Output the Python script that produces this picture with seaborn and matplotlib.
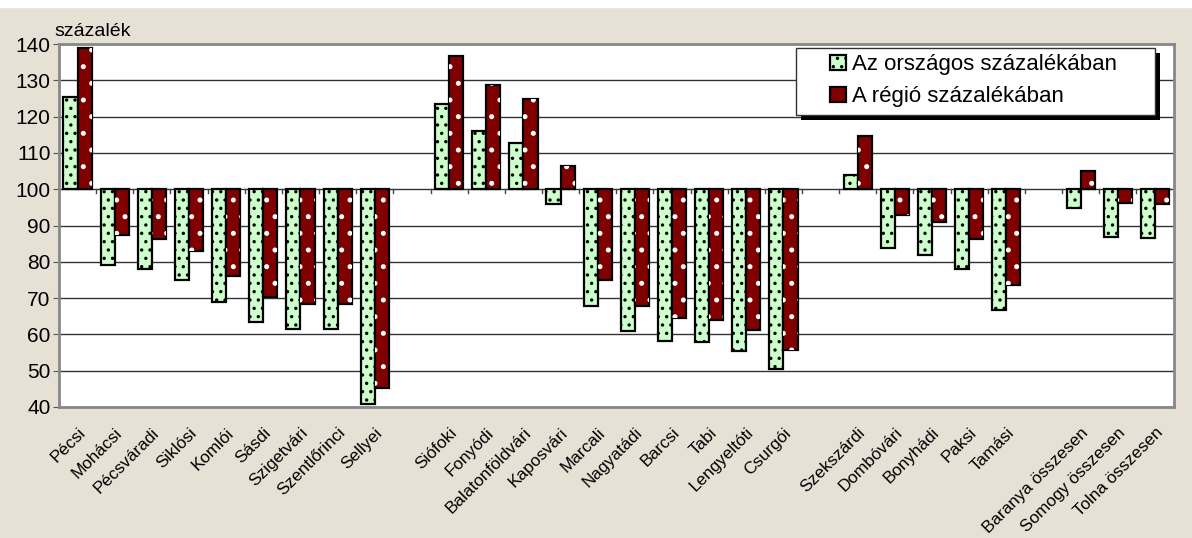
import seaborn as sns
import pandas as pd
import matplotlib.pyplot as plt
from matplotlib.patches import Rectangle
from matplotlib.ticker import FuncFormatter

# kategoriak (ures helyek a megyek kozott)
kategoriak = ["Pécsi", "Mohácsi", "Pécsváradi", "Siklósi", "Komlói", "Sásdi",
              "Szigetvári", "Szentlőrinci", "Sellyei", "",
              "Siófoki", "Fonyódi", "Balatonföldvári", "Kaposvári", "Marcali",
              "Nagyatádi", "Barcsi", "Tabi", "Lengyeltóti", "Csurgói", " ",
              "Szekszárdi", "Dombóvári", "Bonyhádi", "Paksi", "Tamási", "  ",
              "Baranya összesen", "Somogy összesen", "Tolna összesen"]

orszagos = [125.3, 79.0, 78.1, 75.0, 68.8, 63.3, 61.6, 61.4, 40.7, None,
            123.5, 116.1, 112.7, 96.0, 67.7, 60.9, 58.3, 57.9, 55.3, 50.4, None,
            103.8, 83.9, 82.0, 77.9, 66.6, None,
            94.9, 86.8, 86.6]
regio = [138.9, 87.4, 86.4, 83.1, 76.2, 70.3, 68.4, 68.3, 45.2, None,
         136.8, 128.7, 124.9, 106.3, 74.9, 67.7, 64.6, 64.0, 61.3, 55.8, None,
         114.8, 93.0, 90.9, 86.2, 73.7, None,
         105.1, 96.2, 96.0]

sorozatok = ["Az országos százalékában", "A régió százalékában"]

rows = []
for k, o, r in zip(kategoriak, orszagos, regio):
    if o is None:
        continue
    rows.append((k, sorozatok[0], o - 100))
    rows.append((k, sorozatok[1], r - 100))
df = pd.DataFrame(rows, columns=["kat", "sor", "elteres"])

bg = "#e7e0d5"
plt.rcParams["font.family"] = ["Liberation Sans", "DejaVu Sans"]
plt.rcParams["hatch.linewidth"] = 1.2
fig = plt.figure(figsize=(11.92, 5.38), dpi=100, facecolor=bg)
fig.add_artist(Rectangle((0, 1 - 7 / 538), 1, 7 / 538, transform=fig.transFigure,
                         color="white", zorder=0))
ax = fig.add_axes([0.0495, 0.2435, 0.935, 0.6745])
ax.set_facecolor("white")

sns.barplot(data=df, x="kat", y="elteres", hue="sor", order=kategoriak,
            hue_order=sorozatok, palette=["#ccffcc", "#800000"],
            width=0.76, edgecolor="black", saturation=1, ax=ax)

for p in list(ax.patches):
    p.set_zorder(3)
    p.set_linewidth(1.6)
    p.set_edgecolor("black")
    if p.get_facecolor()[1] > 0.9:
        p.set_hatch("..")
    else:
        # feher pontok a piros oszlopokon
        ax.add_patch(Rectangle(p.get_xy(), p.get_width(), p.get_height(),
                               fill=False, edgecolor="white", hatch=".",
                               linewidth=0, zorder=3.2))

ax.set_ylim(-60, 40)
ax.set_xlim(-0.5, len(kategoriak) - 0.5)
ax.set_yticks(range(-60, 41, 10))
ax.yaxis.set_major_formatter(FuncFormatter(lambda v, _: f"{v + 100:.0f}"))
ax.yaxis.grid(True, color="#333333", linewidth=1)
ax.set_axisbelow(True)
ax.tick_params(axis="y", labelsize=15, length=4, color="#555555", pad=2)
ax.tick_params(axis="x", length=0, labelsize=12.3, pad=13)
ax.set_xticks(range(len(kategoriak)))
ax.set_xticklabels(kategoriak, rotation=45, ha="right", rotation_mode="anchor")
ax.set_xlabel("")
ax.set_ylabel("")
for s in ax.spines.values():
    s.set_color("#888888")
    s.set_linewidth(2)

# kis osztasok a 100-as vonalon
for i in range(len(kategoriak) + 1):
    ax.plot([i - 0.5, i - 0.5], [0, -1.1], color="#444444", lw=1, zorder=2)

fig.text(0.046, 0.925, "százalék", fontsize=14, ha="left", va="bottom")

# jelmagyarazat kerete arnyekkal
ax.add_patch(Rectangle((0.6661, 0.790), 0.322, 0.185, transform=ax.transAxes,
                       facecolor="black", edgecolor="none", zorder=6,
                       clip_on=False))
ax.add_patch(Rectangle((0.6616, 0.804), 0.322, 0.185, transform=ax.transAxes,
                       facecolor="white", edgecolor="#333333", linewidth=1,
                       zorder=6.5, clip_on=False))
leg = ax.legend(loc="upper left", bbox_to_anchor=(0.692, 0.972), fontsize=16,
                frameon=False, handlelength=0.7, handleheight=0.7,
                handletextpad=0.3, borderpad=0, labelspacing=0.5,
                borderaxespad=0)
leg.set_zorder(7)

fig.savefig("out.png", dpi=100, facecolor=bg)
